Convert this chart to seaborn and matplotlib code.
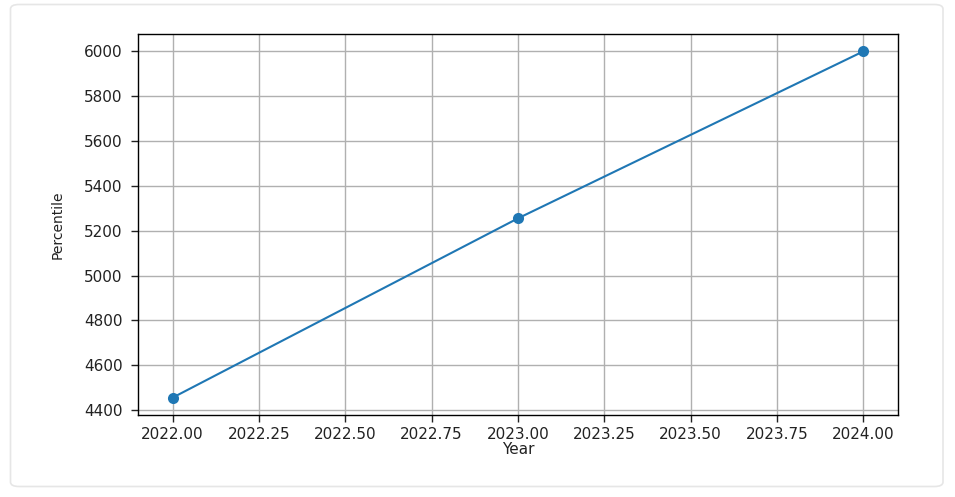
import matplotlib

matplotlib.use("Agg")
import matplotlib.pyplot as plt
import seaborn as sns
from matplotlib.patches import FancyBboxPatch

# data
years = [2022, 2023, 2024]
percentile = [4455, 5255, 6000]

sns.set_theme(style="white")
plt.rcParams["font.family"] = ["DejaVu Sans"]

fig = plt.figure(figsize=(9.55, 4.97), dpi=100)
fig.patch.set_facecolor("white")

# card frame around the chart
card = FancyBboxPatch(
    (10.5 / 955, 1 - 486.5 / 497),
    (943 - 10.5) / 955,
    (486.5 - 4.5) / 497,
    boxstyle="round,pad=0,rounding_size=0.009",
    transform=fig.transFigure,
    facecolor="none",
    edgecolor="#e6e6e6",
    linewidth=1.2,
    zorder=-1,
)
fig.patches.append(card)

ax = fig.add_axes([138 / 955, 1 - 415 / 497, (898 - 138) / 955, (415 - 34) / 497])
ax.set_facecolor("white")

sns.lineplot(
    x=years,
    y=percentile,
    marker="o",
    markersize=8,
    markeredgewidth=0,
    color="#1f77b4",
    linewidth=1.5,
    ax=ax,
)

ax.set_xticks([2022 + 0.25 * i for i in range(9)])
ax.xaxis.set_major_formatter(matplotlib.ticker.FormatStrFormatter("%.2f"))
ax.set_xlim(2021.9, 2024.1)

ax.set_xlabel("Year", fontsize=11, color="#222222", labelpad=0)
ax.set_ylabel("Percentile", fontsize=10, color="#222222", labelpad=14)

ax.tick_params(axis="both", labelsize=11, colors="#222222", length=5, width=1,
               direction="out", left=True, bottom=True)
ax.tick_params(axis="y", pad=6)
ax.grid(True, color="#b0b0b0", linewidth=1)
ax.set_axisbelow(True)
for spine in ax.spines.values():
    spine.set_color("black")
    spine.set_linewidth(1)

fig.savefig("out.png", dpi=100, facecolor=fig.get_facecolor())
plt.close(fig)
